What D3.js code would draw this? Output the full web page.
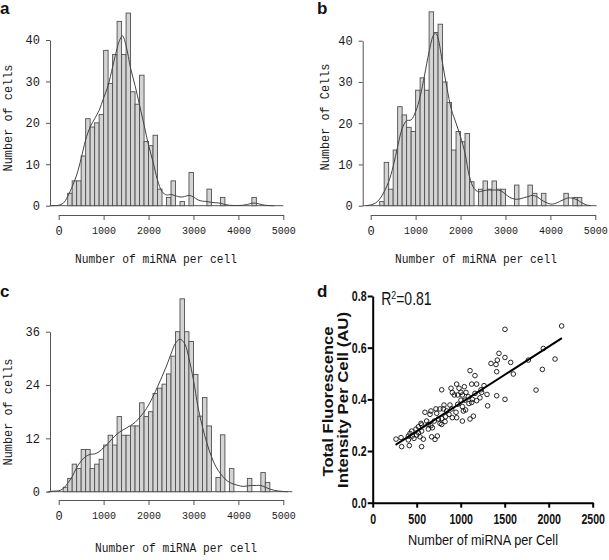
<!DOCTYPE html>
<html><head><meta charset="utf-8">
<script src="https://cdn.jsdelivr.net/npm/d3@7"></script>
<style>body{margin:0;background:#fff}svg{display:block}</style>
</head><body>
<svg id="chart" width="609" height="560"></svg>
<script>
// ---------- DATA ----------
const binWidth = 100;
const xTicksHist = [0, 1000, 2000, 3000, 4000, 5000];

// Panel a
const binsA = [200,300,400,500,600,700,800,900,1000,1100,1200,1300,1400,1500,1600,1700,1800,1900,2000,2100,2200,2300,2400,2500,2600,2700,2800,2900,3000,3100,3200,3300,3400,3500,3600,3700,3800,3900,4000,4100,4200,4300];
const countsA = [3,6,6,12,21,19,20,22,37.5,29.5,36.5,44.5,36.5,46.5,27.5,24.5,31.5,15.5,14.5,17,4,0,2,6,0,1,0,8,0,0,0,4,0,0,2,0,0,0,0,0,0,2];
const densA = [[-200,0],[-100,0.02],[0,0.1],[100,0.6],[200,2.2],[300,4.6],[400,7.4],[500,11.4],[600,15.9],[700,19],[800,21],[900,23],[1000,26],[1100,29],[1200,33.5],[1300,38],[1350,39.8],[1420,41],[1500,38.6],[1600,33.2],[1700,29],[1800,24.3],[1900,19.5],[2000,14.6],[2100,10.6],[2200,6.2],[2300,3.4],[2400,2.6],[2500,2.7],[2600,2.4],[2700,2.1],[2800,2.2],[2900,2.5],[3000,2.1],[3100,1.4],[3200,1.1],[3300,1.0],[3400,0.8],[3500,0.7],[3600,0.6],[3700,0.3],[3800,0.1],[3900,0.05],[4000,0.05],[4100,0.1],[4200,0.3],[4300,0.6],[4400,0.6],[4500,0.3],[4600,0.1],[4700,0.02],[4800,0]];
const yTicksA = [0,10,20,30,40];

// Panel b
const binsB = [200,300,400,500,600,700,800,900,1000,1100,1200,1300,1400,1500,1600,1700,1800,1900,2000,2100,2200,2300,2400,2500,2600,2700,2800,2900,3000,3100,3200,3300,3400,3500,3600,3700,3800,3900,4000,4100,4200,4300,4400,4500,4600];
const countsB = [1,10.5,4,13.5,24,22,19,18,28,31,28,47,42,44,30,25,13.5,18,15.5,17.5,5.8,0,4,6,4,6,4,4,0,0,5,0,0,5,3,0,3,0,0,0,0,3,0,2,2];
const densB = [[-100,0],[0,0.2],[100,0.6],[200,1.6],[300,3.4],[400,5.8],[500,9.5],[600,14.3],[700,18.7],[800,20.6],[900,20.8],[1000,22.8],[1100,26.4],[1200,31.7],[1300,37.3],[1400,41.4],[1450,41.8],[1500,40.6],[1600,34.5],[1700,28.4],[1800,23.2],[1900,20],[2000,16.7],[2100,12.7],[2200,7],[2300,4.2],[2400,3.4],[2500,3.6],[2600,3.8],[2700,3.8],[2800,3.8],[2900,3.6],[3000,2.8],[3100,2],[3200,1.6],[3300,1.6],[3400,1.9],[3500,2.2],[3600,2.5],[3700,2.2],[3800,1.4],[3900,0.8],[4000,0.4],[4100,0.5],[4200,1],[4300,1.5],[4400,1.9],[4500,1.8],[4600,1.4],[4700,0.7],[4800,0.2],[4900,0]];
const yTicksB = [0,10,20,30,40];

// Panel c
const binsC = [100,200,300,400,500,600,700,800,900,1000,1100,1200,1300,1400,1500,1600,1700,1800,1900,2000,2100,2200,2300,2400,2500,2600,2700,2800,2900,3000,3100,3200,3300,3400,3500,3600,3700,3800,3900,4000,4100,4200,4300,4400,4500,4600];
const countsC = [1,3,6.2,5.2,9.5,9.5,5.2,6.2,7.3,10.5,12.7,10.5,16.9,12.7,12.7,14.8,14.8,20,16.9,18,22.1,23.3,24.2,26.5,30.5,36,43.4,36,33.8,26.4,17,21.2,14.8,0,3.2,12.8,0,5.2,0,0,0,3,0,0,4.3,2.1];
const densC = [[-250,0],[-100,0.15],[0,0.2],[100,0.7],[200,1.9],[300,3.4],[400,5.4],[500,6.9],[600,7.9],[700,8.4],[800,8.5],[900,9],[1000,9.9],[1100,10.9],[1200,12],[1300,13],[1400,13.7],[1500,14.3],[1600,14.9],[1700,15.6],[1800,16.7],[1900,17.9],[2000,19.5],[2100,21.4],[2200,23.6],[2300,25.9],[2400,28.3],[2500,31],[2600,33.4],[2700,34.3],[2800,33.4],[2900,30],[3000,25.1],[3100,19.1],[3200,14.6],[3300,10.9],[3400,7.9],[3500,5.6],[3600,4.1],[3700,2.9],[3800,2.1],[3900,1.7],[4000,1.4],[4100,1.2],[4200,1.3],[4300,1.4],[4400,1.4],[4500,1.4],[4600,1],[4700,0.6],[4800,0.3],[4900,0.15],[5000,0.05],[5100,0]];
const yTicksC = [0,12,24,36];

// Panel d (scatter)
const scatterX = [1503,2147,1939,1435,1503,1344,1401,1416,1568,1769,2072,1409,1598,1928,1856,1409,1503,1306,1299,1265,1231,1106,1162,1125,1181,954,890,981,1041,784,905,1003,1060,928,966,1019,1087,1162,1219,1132,1125,1181,1094,1049,1003,966,878,810,1019,897,803,765,719,662,594,651,727,841,1030,1056,947,867,1144,1106,1019,954,905,829,784,746,700,613,549,519,492,556,632,662,678,765,784,822,632,556,519,500,443,424,405,450,537,575,670,708,734,322,265,329,416,556,405,469,1238];
const scatterY = [0.671,0.684,0.597,0.578,0.562,0.539,0.535,0.552,0.543,0.552,0.556,0.507,0.498,0.516,0.436,0.414,0.400,0.375,0.419,0.453,0.437,0.511,0.492,0.459,0.459,0.459,0.443,0.443,0.449,0.437,0.426,0.427,0.427,0.417,0.417,0.417,0.410,0.423,0.406,0.400,0.388,0.395,0.384,0.397,0.397,0.381,0.378,0.378,0.372,0.363,0.363,0.363,0.363,0.355,0.350,0.342,0.346,0.355,0.355,0.359,0.350,0.342,0.335,0.324,0.316,0.329,0.329,0.333,0.326,0.324,0.316,0.316,0.307,0.294,0.285,0.301,0.303,0.298,0.290,0.307,0.303,0.314,0.285,0.277,0.271,0.262,0.277,0.268,0.258,0.258,0.255,0.246,0.255,0.245,0.258,0.252,0.246,0.217,0.221,0.217,0.243,0.249,0.427];
const fitLine = [[260,0.224],[2150,0.637]];
const xTicksD = [0,500,1000,1500,2000,2500];
const yTicksD = [0,0.2,0.4,0.6,0.8];

// ---------- DRAW ----------
const svg = d3.select("#chart");
const MONO = "'Liberation Mono','DejaVu Sans Mono',monospace";
const SANS = "'Liberation Sans',Arial,sans-serif";

function hist(cfg) {
  const g = svg.append("g");
  const x = d3.scaleLinear().domain([0, 5000]).range([cfg.x0, cfg.x1]);
  const y = d3.scaleLinear().domain([0, cfg.ymax]).range([cfg.y0, cfg.y1]);
  const data = cfg.bins.map((b, i) => ({b, v: cfg.counts[i]})).filter(d => d.v > 0);
  g.append("line").attr("x1", cfg.axisX).attr("x2", x(cfg.baseEnd))
    .attr("y1", y(0)).attr("y2", y(0)).attr("stroke", "#555").attr("stroke-width", 1);
  g.selectAll("rect.bar").data(data).join("rect").attr("class", "bar")
    .attr("x", d => x(d.b)).attr("width", d => x(d.b + binWidth) - x(d.b))
    .attr("y", d => y(d.v)).attr("height", d => y(0) - y(d.v))
    .attr("fill", "#d4d4d4").attr("stroke", "#505050").attr("stroke-width", 0.9);
  const line = d3.line().x(d => x(d[0])).y(d => y(d[1])).curve(d3.curveCatmullRom);
  g.append("path").attr("d", line(cfg.dens)).attr("fill", "none")
    .attr("stroke", "#444").attr("stroke-width", 1);
  const ya = g.append("g").attr("transform", `translate(${cfg.axisX},0)`)
    .call(d3.axisLeft(y).tickValues(cfg.yticks).tickFormat(d => String(d)).tickSize(4).tickSizeOuter(0).tickPadding(6));
  const xa = g.append("g").attr("transform", `translate(0,${cfg.axisY})`)
    .call(d3.axisBottom(x).tickValues(xTicksHist).tickFormat(d => String(d)).tickSize(5).tickSizeOuter(0).tickPadding(6));
  [ya, xa].forEach(a => {
    a.selectAll("path,line").attr("stroke", "#555");
    a.selectAll("text").attr("font-family", MONO).attr("font-size", 12).attr("fill", "#1a1a1a");
  });
  xa.selectAll("text").attr("font-size", 11).attr("textLength", 24).attr("lengthAdjust", "spacingAndGlyphs");
  xa.selectAll("text").filter(d => d === 0).attr("textLength", null).attr("font-size", 12);
  g.append("text").attr("x", cfg.xtX).attr("y", cfg.xtY).attr("text-anchor", "middle")
    .attr("font-family", MONO).attr("font-size", 13).attr("fill", "#1a1a1a")
    .attr("textLength", 162).attr("lengthAdjust", "spacingAndGlyphs")
    .text("Number of miRNA per cell");
  g.append("text").attr("transform", `translate(${cfg.ytX},${cfg.ytY}) rotate(-90)`)
    .attr("text-anchor", "middle").attr("font-family", MONO).attr("font-size", 13).attr("fill", "#1a1a1a")
    .attr("textLength", 107).attr("lengthAdjust", "spacingAndGlyphs")
    .text(cfg.ytitle);
  g.append("text").attr("x", cfg.lx).attr("y", cfg.ly).attr("font-family", SANS)
    .attr("font-weight", "bold").attr("font-size", 17).attr("fill", "#111").text(cfg.letter);
}

hist({bins: binsA, counts: countsA, dens: densA, yticks: yTicksA, ymax: 40,
  x0: 58.7, x1: 283.3, y0: 205.7, y1: 40, axisX: 50, axisY: 215, baseEnd: 5000,
  xtX: 156, xtY: 263, ytX: 12, ytY: 118, ytitle: "Number of cells", letter: "a", lx: 0, ly: 14});
hist({bins: binsB, counts: countsB, dens: densB, yticks: yTicksB, ymax: 40,
  x0: 370.7, x1: 595.3, y0: 205.7, y1: 40.7, axisX: 362.7, axisY: 215, baseEnd: 5030,
  xtX: 476, xtY: 263, ytX: 329, ytY: 117, ytitle: "Number of Cells", letter: "b", lx: 317, ly: 14});
hist({bins: binsC, counts: countsC, dens: densC, yticks: yTicksC, ymax: 36,
  x0: 58.7, x1: 283.3, y0: 491.7, y1: 331.7, axisX: 50, axisY: 500, baseEnd: 5200,
  xtX: 176, xtY: 552, ytX: 12, ytY: 412, ytitle: "Number of cells", letter: "c", lx: 0, ly: 297});

// Panel d
(function(){
  const g = svg.append("g");
  const x = d3.scaleLinear().domain([0, 2500]).range([372.7, 592.7]);
  const y = d3.scaleLinear().domain([0, 0.8]).range([502.7, 296]);
  const pts = scatterX.map((v, i) => [v, scatterY[i]]);
  g.selectAll("circle").data(pts).join("circle")
    .attr("cx", d => x(d[0])).attr("cy", d => y(d[1])).attr("r", 2.3)
    .attr("fill", "none").attr("stroke", "#111").attr("stroke-width", 0.9);
  g.append("line").attr("x1", x(fitLine[0][0])).attr("y1", y(fitLine[0][1]))
    .attr("x2", x(fitLine[1][0])).attr("y2", y(fitLine[1][1]))
    .attr("stroke", "#000").attr("stroke-width", 2);
  const ya = g.append("g").attr("transform", `translate(${x(0)},0)`)
    .call(d3.axisLeft(y).tickValues(yTicksD).tickFormat(d3.format(".1f")).tickSize(5).tickSizeOuter(0).tickPadding(3));
  const xa = g.append("g").attr("transform", `translate(0,${y(0)})`)
    .call(d3.axisBottom(x).tickValues(xTicksD).tickFormat(d => String(d)).tickSize(5).tickSizeOuter(0).tickPadding(6));
  [ya, xa].forEach(a => {
    a.selectAll("path,line").attr("stroke", "#000").attr("stroke-width", 2);
    a.selectAll("text").attr("font-family", SANS).attr("font-weight", "bold")
      .attr("font-size", 14).attr("fill", "#111").attr("transform", "scale(0.76,1)");
  });
  g.append("text").attr("x", 483).attr("y", 545).attr("text-anchor", "middle")
    .attr("font-family", SANS).attr("font-size", 15.5).attr("fill", "#111")
    .attr("textLength", 150).attr("lengthAdjust", "spacingAndGlyphs")
    .text("Number of miRNA per Cell");
  g.append("text").attr("transform", "translate(333,401.5) rotate(-90)").attr("text-anchor", "middle")
    .attr("font-family", SANS).attr("font-weight", "bold").attr("font-size", 14.5).attr("fill", "#111")
    .attr("textLength", 150).attr("lengthAdjust", "spacingAndGlyphs")
    .text("Total Fluorescence");
  g.append("text").attr("transform", "translate(348,400) rotate(-90)").attr("text-anchor", "middle")
    .attr("font-family", SANS).attr("font-weight", "bold").attr("font-size", 14.5).attr("fill", "#111")
    .attr("textLength", 176).attr("lengthAdjust", "spacingAndGlyphs")
    .text("Intensity Per Cell (AU)");
  const r2 = g.append("text").attr("x", 381.5).attr("y", 305)
    .attr("font-family", SANS).attr("font-size", 17.5).attr("fill", "#111")
    .attr("transform", "translate(76,0) scale(0.8,1)");
  r2.append("tspan").text("R");
  r2.append("tspan").attr("dy", -6).attr("font-size", 11).text("2");
  r2.append("tspan").attr("dy", 6).text("=0.81");
  g.append("text").attr("x", 317).attr("y", 297).attr("font-family", SANS)
    .attr("font-weight", "bold").attr("font-size", 17).attr("fill", "#111").text("d");
})();
</script>
</body></html>
